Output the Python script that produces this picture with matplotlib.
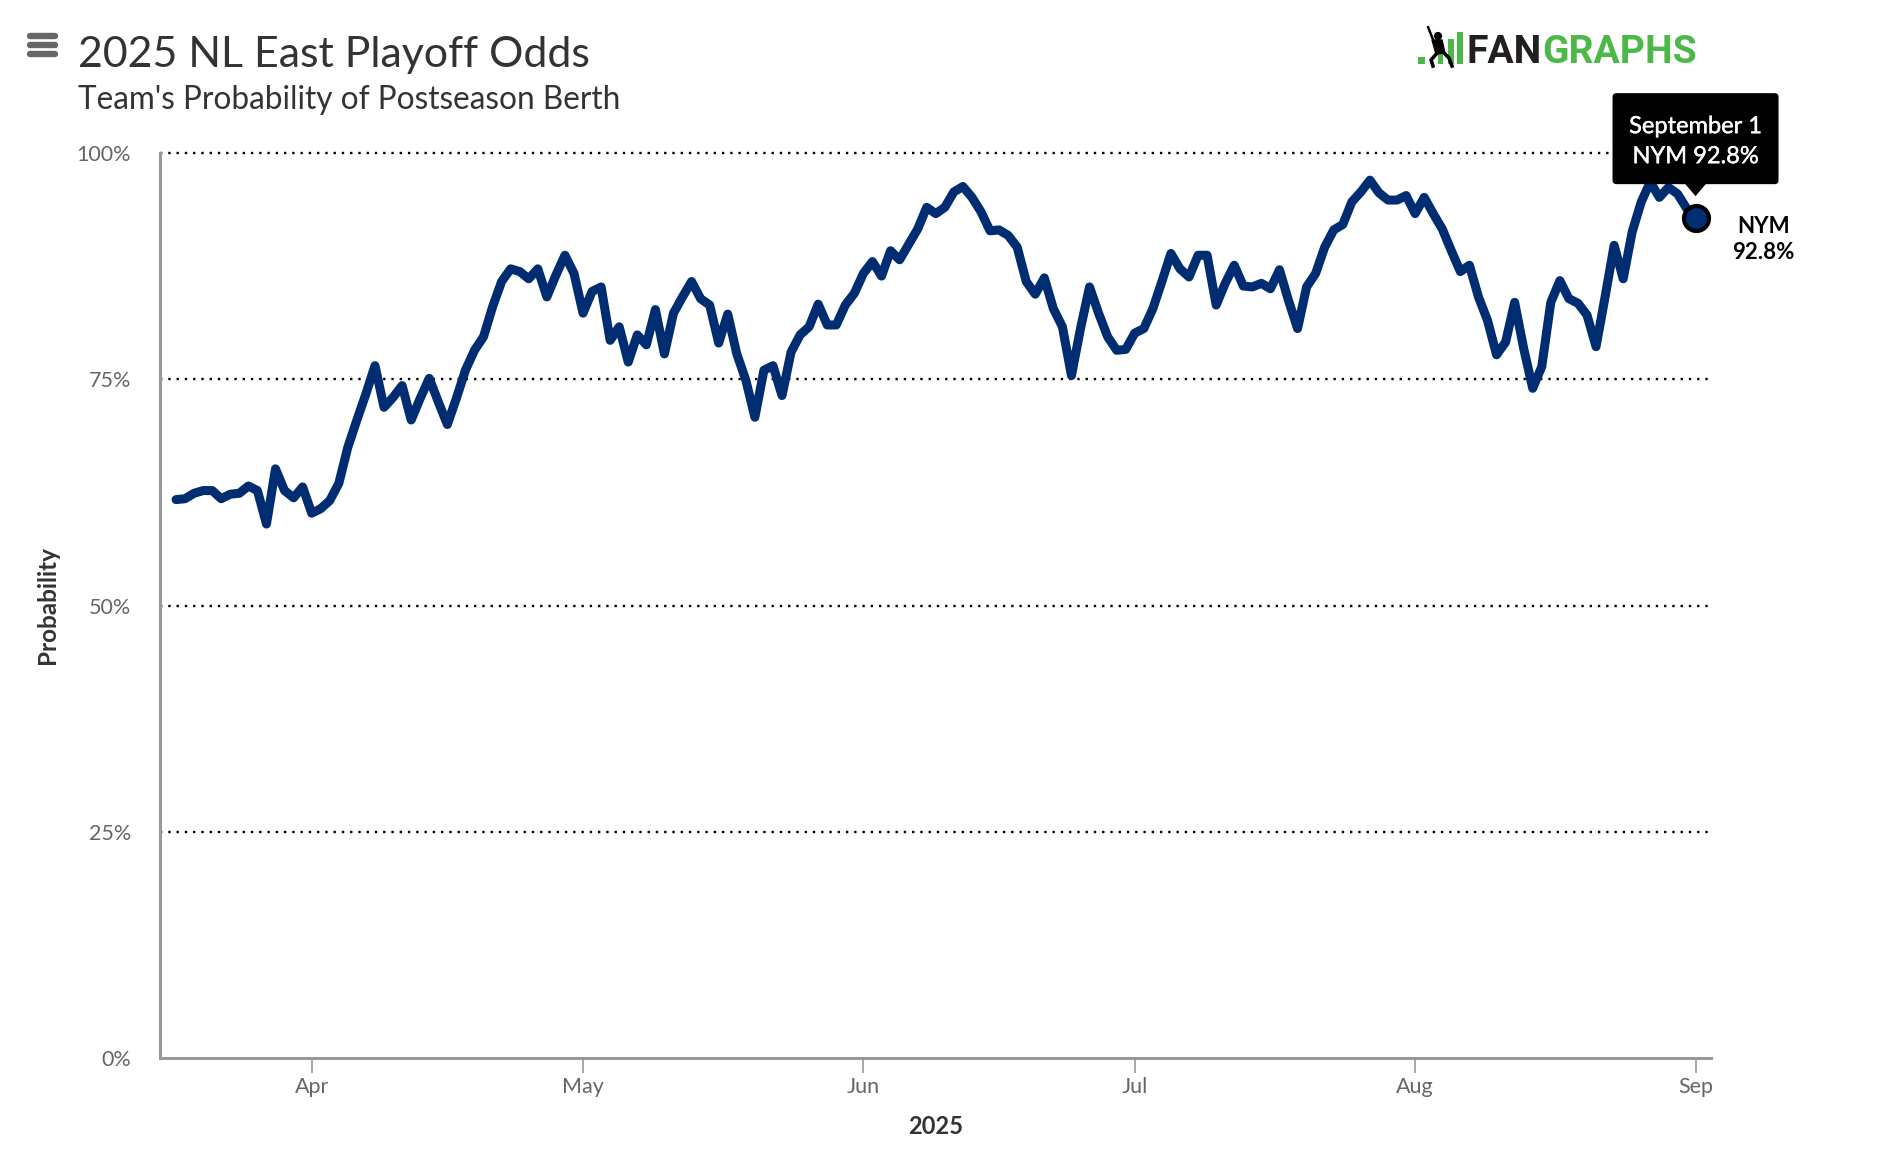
import numpy as np
import matplotlib
matplotlib.use("Agg")
import matplotlib.pyplot as plt
import matplotlib.dates as mdates
import matplotlib.patheffects as pe
from matplotlib.patches import FancyBboxPatch, Polygon, Rectangle, Circle
from matplotlib.lines import Line2D
import datetime as dt

# ---------------- data ----------------
title = "2025 NL East Playoff Odds"
subtitle = "Team's Probability of Postseason Berth"
team = "NYM"
start_date = "2025-03-17"
odds_march = [61.7, 61.8, 62.4, 62.7, 62.7, 61.8, 62.3, 62.4, 63.2, 62.7, 59.0, 65.1, 62.7, 61.9, 63.1]
odds_april = [60.2, 60.7, 61.6, 63.5, 67.5, 70.5, 73.4, 76.5, 71.9, 73.0, 74.3, 70.5, 72.9, 75.1, 72.5,
              70.0, 72.9, 76.0, 78.2, 79.7, 83.0, 85.8, 87.2, 86.9, 86.1, 87.2, 84.1, 86.5, 88.7, 86.7]
odds_may = [82.3, 84.7, 85.2, 79.3, 80.8, 76.9, 79.9, 78.8, 82.7, 77.8, 82.3, 84.1, 85.8, 83.9, 83.2,
            79.0, 82.2, 77.8, 74.9, 70.8, 76.0, 76.5, 73.2, 78.0, 79.9, 80.8, 83.3, 81.0, 81.0, 83.2, 84.5]
odds_june = [86.7, 88.0, 86.4, 89.2, 88.2, 89.9, 91.6, 94.0, 93.3, 94.0, 95.7, 96.3, 95.1, 93.5, 91.4,
             91.5, 90.9, 89.6, 85.8, 84.4, 86.2, 82.8, 80.8, 75.4, 80.6, 85.2, 82.3, 79.7, 78.2, 78.3]
odds_july = [80.1, 80.6, 82.8, 85.8, 88.9, 87.2, 86.3, 88.7, 88.7, 83.2, 85.6, 87.6, 85.3, 85.2, 85.6,
             85.0, 87.1, 83.7, 80.6, 85.2, 86.7, 89.6, 91.5, 92.1, 94.6, 95.7, 97.0, 95.6, 94.8, 94.8, 95.3]
odds_august = [93.3, 95.1, 93.3, 91.6, 89.2, 86.9, 87.6, 84.1, 81.5, 77.7, 79.1, 83.5, 78.4, 74.0, 76.4,
               83.5, 85.9, 83.9, 83.4, 82.1, 78.6, 84.1, 89.8, 86.1, 91.3, 94.6, 96.8, 95.1, 96.2, 95.5, 93.9]
odds_september = [92.8]

month_ticks = ["2025-04-01", "2025-05-01", "2025-06-01", "2025-07-01", "2025-08-01", "2025-09-01"]
month_labels = ["Apr", "May", "Jun", "Jul", "Aug", "Sep"]
y_ticks = [0, 25, 50, 75, 100]
y_tick_labels = ["0%", "25%", "50%", "75%", "100%"]
x_axis_title = "2025"
y_axis_title = "Probability"

odds = odds_march + odds_april + odds_may + odds_june + odds_july + odds_august + odds_september
dates = np.arange(np.datetime64(start_date), np.datetime64(start_date) + len(odds))
xnum = mdates.date2num(dates)

# ---------------- style ----------------
W, H = 1882, 1162
LINE = "#002d72"
FONT = ["Lato", "DejaVu Sans"]
plt.rcParams["font.family"] = FONT

fig = plt.figure(figsize=(W / 100, H / 100), dpi=100)
fig.patch.set_facecolor("white")

L, R, T, B = 160, 1711, 153, 1058
ax = fig.add_axes([L / W, 1 - B / H, (R - L) / W, (B - T) / H])
ax.set_facecolor("white")

apr1 = mdates.date2num(np.datetime64(month_ticks[0]))
sep1 = mdates.date2num(np.datetime64(month_ticks[-1]))
ax.set_xlim(apr1 - 16.77, sep1 + 1.71)
ax.set_ylim(y_ticks[0], y_ticks[-1])

for yv in y_ticks[1:]:
    ax.axhline(yv, color="black", lw=1.7, ls=(0, (1, 2.5)), zorder=1, clip_on=False)

ax.plot(xnum, odds, color=LINE, lw=6.5, solid_joinstyle="round", solid_capstyle="round", zorder=3)
ax.plot([xnum[-1]], [odds[-1]], "o", ms=18, mfc=LINE, mec="black", mew=3.0, zorder=4, clip_on=False)

for s in ["top", "right"]:
    ax.spines[s].set_visible(False)
for s in ["left", "bottom"]:
    ax.spines[s].set_color("#999999")
    ax.spines[s].set_linewidth(2.2)
    ax.spines[s].set_zorder(5)

ax.set_xticks([mdates.date2num(np.datetime64(d)) for d in month_ticks])
ax.set_xticklabels(month_labels)
ax.set_yticks(y_ticks)
ax.set_yticklabels(y_tick_labels)
ax.tick_params(axis="x", direction="out", length=10.8, width=1.2, color="#999999",
               labelsize=15.5, labelcolor="#666666", pad=3)
ax.tick_params(axis="y", length=0, pad=21, labelsize=15.5, labelcolor="#666666")

# ---------------- overlay (pixel coords, y from top) ----------------
ov = fig.add_axes([0, 0, 1, 1], zorder=10)
ov.set_xlim(0, W)
ov.set_ylim(H, 0)
ov.axis("off")
ov.patch.set_alpha(0)

renderer = fig.canvas.get_renderer()


def fit(t, target):
    w = t.get_window_extent(renderer).width
    t.set_fontsize(t.get_fontsize() * target / w)
    return t


# hamburger menu
for yy in [36, 45, 54]:
    ov.add_line(Line2D([30, 55], [yy, yy], color="#666666", lw=4.6, solid_capstyle="round"))

# title / subtitle
t1 = ov.text(78, 67, title, fontsize=32, color="#333333", ha="left", va="baseline")
fit(t1, 514)
t2 = ov.text(78, 109, subtitle, fontsize=19, color="#333333", ha="left", va="baseline")
fit(t2, 543)

# axis titles
ov.text((L + R) / 2, 1127, x_axis_title, fontsize=17, fontweight="bold", color="#333333",
        ha="center", va="center")
ov.text(48, (T + B) / 2, y_axis_title, fontsize=17.5, fontweight="bold", color="#333333",
        ha="center", va="center", rotation=90)

# logo
GREEN = "#4cb848"
for (x0, y0, x1) in [(1418, 57, 1425), (1438, 48, 1443), (1448, 39, 1454), (1457, 32, 1463)]:
    ov.add_patch(Rectangle((x0, y0), x1 - x0, 64 - y0, color=GREEN, lw=0))
# simple batter silhouette
ov.add_line(Line2D([1428, 1434], [27, 42], color="black", lw=1.8, solid_capstyle="round"))
ov.add_patch(Circle((1438, 36), 3.4, color="black"))
ov.add_patch(Polygon([[1432, 40], [1442, 40], [1445, 53], [1436, 54]], closed=True, color="black"))
ov.add_line(Line2D([1438, 1431, 1433], [52, 60, 66], color="black", lw=2.6))
ov.add_line(Line2D([1443, 1449, 1452], [52, 58, 66], color="black", lw=2.6))
f1 = ov.text(1467, 63, "FAN", fontsize=28, fontweight="bold", color="#231f20",
             family=["Roboto", "DejaVu Sans"], ha="left", va="baseline")
f2 = ov.text(1467, 63, "FANGRAPHS", fontsize=28, fontweight="bold", color="none",
             family=["Roboto", "DejaVu Sans"], ha="left", va="baseline")
fit(f2, 230)
f1.set_fontsize(f2.get_fontsize())
fan_w = f1.get_window_extent(renderer).width
f2.set_visible(False)
ov.text(1467 + fan_w, 63, "GRAPHS", fontsize=f2.get_fontsize(), fontweight="bold", color=GREEN,
        family=["Roboto", "DejaVu Sans"], ha="left", va="baseline")

# tooltip + end label tied to last point
px, py = ax.transData.transform((xnum[-1], odds[-1]))
py = H - py
last_day = dates[-1].astype(dt.date)
tip_date = last_day.strftime("%B ") + str(last_day.day)
tip_val = f"{team} {odds[-1]:.1f}%"

bx0, bx1 = px - 83, px + 83
by0, by1 = py - 125, py - 34
ov.add_patch(FancyBboxPatch((bx0, by0), bx1 - bx0, by1 - by0,
                            boxstyle="round,pad=0,rounding_size=4", fc="black", ec="black", lw=0, zorder=11))
ov.add_patch(Polygon([[px - 11, by1 - 1], [px + 11, by1 - 1], [px, py - 22]], closed=True,
                     fc="black", ec="black", lw=0, zorder=11))
thick = [pe.withStroke(linewidth=0.3, foreground="white")]
ov.text(px, py - 85, tip_date, fontsize=17, color="white", ha="center", va="baseline", zorder=12,
        path_effects=thick)
ov.text(px, py - 55, tip_val, fontsize=17, color="white", ha="center", va="baseline", zorder=12,
        path_effects=thick)

ov.text(px + 68, py + 15, team, fontsize=16, fontweight="bold", color="black",
        ha="center", va="baseline")
ov.text(px + 68, py + 41, f"{odds[-1]:.1f}%", fontsize=16, fontweight="bold", color="black",
        ha="center", va="baseline")

fig.savefig("out.png", dpi=100, facecolor="white")
